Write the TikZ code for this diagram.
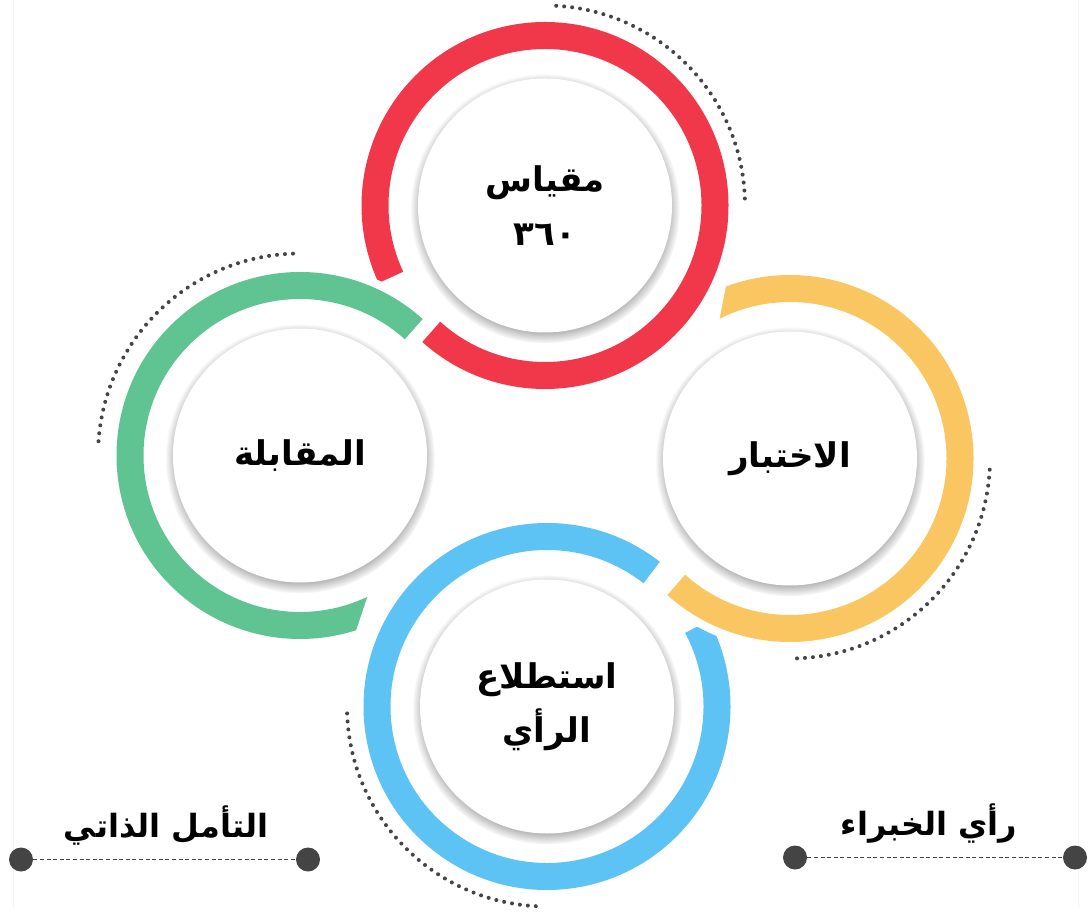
\documentclass[tikz,border=0pt]{standalone}
\usepackage{fontspec}
\newfontfamily\arabicfont[Script=Arabic]{DejaVu Sans}
\TeXXeTstate=1
\usetikzlibrary{shadows,fadings}
\definecolor{cred}{HTML}{F1384A}
\definecolor{cgreen}{HTML}{5FC491}
\definecolor{cyellow}{HTML}{F9C661}
\definecolor{cblue}{HTML}{5CC3F4}
\definecolor{cdot}{HTML}{444444}
\begin{document}
\begin{tikzpicture}[x=0.5pt,y=0.5pt,
  glowshadow/.style={general shadow={shadow scale=1.06, shadow yshift=-1.5pt, fill=black, opacity=0.5, path fading=circle with fuzzy edge 15 percent}},
  inner/.style={circle, fill=white, minimum size=127pt, inner sep=0pt, align=center,
     font=\arabicfont\bfseries\fontsize{17}{27}\selectfont, glowshadow},
  ring/.style={line width=13.5pt},
  halo/.style={line width=22pt, white},
  dotarc/.style={cdot, line width=2pt, line cap=round, dash pattern=on 0pt off 4pt},
  enddot/.style={circle, fill=cdot, minimum size=12pt, inner sep=0pt},
  dashline/.style={cdot, line width=0.6pt, dash pattern=on 2pt off 1.3pt},
  label/.style={font=\arabicfont\bfseries\fontsize{16}{20}\selectfont, inner sep=0pt}
]
\fill[white] (0,0) rectangle (1090,907);
\draw[gray!8, line width=0.5pt] (13,0) -- (13,907);
\draw[gray!8, line width=0.5pt] (1078,0) -- (1078,907);

% centres
\coordinate (cr) at (545,702);
\coordinate (cg) at (300,452);
\coordinate (cy) at (790,449);
\coordinate (cb) at (547,201);

% dotted quarter arcs
\draw[dotarc] ([shift={(2:100pt)}]cr) arc[start angle=2, end angle=88, radius=100pt];
\draw[dotarc] ([shift={(92:101pt)}]cg) arc[start angle=92, end angle=178, radius=101pt];
\draw[dotarc] ([shift={(272:100pt)}]cy) arc[start angle=272, end angle=358, radius=100pt];
\draw[dotarc] ([shift={(182:100pt)}]cb) arc[start angle=182, end angle=268, radius=100pt];

% blue ring, cut by the yellow one
\draw[ring, cblue] ([shift={(52:85pt)}]cb) arc[start angle=52, end angle=388, radius=85pt];
\draw[halo] ([shift={(224:85pt)}]cy) arc[start angle=224, end angle=254, radius=85pt];
% yellow ring, slanted top end
\begin{scope}
  \clip (780.8,907) -- (702.6,500) -- (600,500) -- (600,0) -- (1090,0) -- (1090,907) -- cycle;
  \draw[ring, cyellow] ([shift={(-132:85pt)}]cy) arc[start angle=-132, end angle=122, radius=85pt];
\end{scope}
% red ring
\draw[ring, cred] ([shift={(228:85pt)}]cr) arc[start angle=228, end angle=565, radius=85pt];
% green ring, cutting the red one, slanted bottom end
\draw[halo] ([shift={(44:85pt)}]cg) arc[start angle=44, end angle=80, radius=85pt];
\begin{scope}
  \clip (0,0) -- (290,79) -- (415,454) -- (500,454) -- (500,907) -- (0,907) -- cycle;
  \draw[ring, cgreen] ([shift={(48:85pt)}]cg) arc[start angle=48, end angle=302, radius=85pt];
\end{scope}

% inner circles
\node[inner] (red) at (cr) {\beginR مقياس\endR\\ ٣٦٠};
\node[inner] (green) at (cg) {\beginR المقابلة\endR};
\node[inner] (yellow) at (cy) {\beginR الاختبار\endR};
\node[inner] (blue) at (cb) {\beginR استطلاع\endR\\ \beginR الرأي\endR};

% bottom legends
\node[enddot] (la) at (21,48) {};
\node[enddot] (lb) at (308,48) {};
\draw[dashline] (la) -- (lb);
\node[label] (lt) at (166,82) {\beginR التأمل الذاتي\endR};

\node[enddot] (ra) at (795,50) {};
\node[enddot] (rb) at (1075,50) {};
\draw[dashline] (ra) -- (rb);
\node[label] (rt) at (929,84) {\beginR رأي الخبراء\endR};
\end{tikzpicture}
\end{document}
